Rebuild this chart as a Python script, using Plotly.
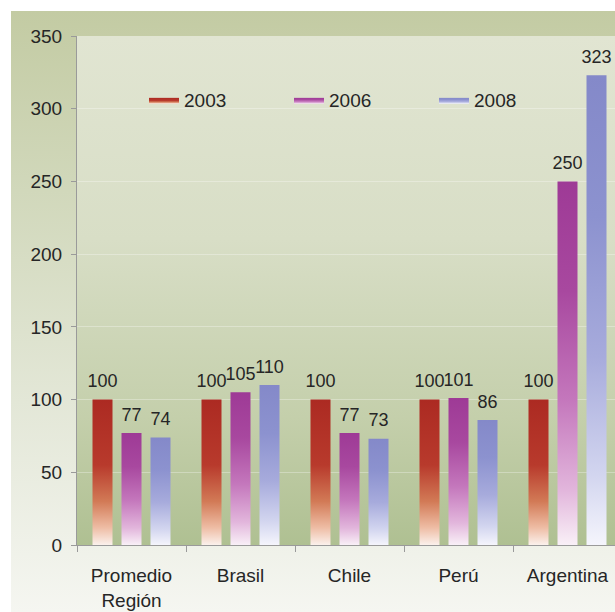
import base64
import plotly.graph_objects as go

categories = ["Promedio<br>Región", "Brasil", "Chile", "Perú", "Argentina"]
years = ["2003", "2006", "2008"]
v2003 = [100, 100, 100, 100, 100]
v2006 = [77, 105, 77, 101, 250]
v2008 = [74, 110, 73, 86, 323]
y_ticks = [0, 50, 100, 150, 200, 250, 300, 350]

series = [v2003, v2006, v2008]
scales = [
    [[0, "#fbf1ec"], [0.12, "#eebca4"], [0.3, "#d27a56"], [0.55, "#b83a2c"], [1, "#ac2a22"]],
    [[0, "#f9f0f7"], [0.15, "#e2b6dc"], [0.4, "#c477bc"], [0.7, "#a8489f"], [1, "#9e3a96"]],
    [[0, "#f5f5fc"], [0.15, "#d2d5ef"], [0.4, "#a7abdc"], [0.7, "#8c92cf"], [1, "#8489c9"]],
]
slot = 29 / 109
half = 10 / 109

fig = go.Figure()
for j, (yr, vals) in enumerate(zip(years, series)):
    for i, v in enumerate(vals):
        c = i + (j - 1) * slot
        fig.add_trace(go.Scatter(
            x=[c - half, c + half, c + half, c - half, c - half],
            y=[0, 0, v, v, 0],
            mode="lines", fill="toself",
            line=dict(width=0, color="rgba(0,0,0,0)"),
            fillgradient=dict(type="vertical", colorscale=scales[j]),
            name=yr, legendgroup=yr, showlegend=(i == 0),
            hoverinfo="skip",
        ))
    fig.add_trace(go.Scatter(
        x=[i + (j - 1) * slot for i in range(len(vals))], y=vals,
        mode="markers+text", marker=dict(size=11, opacity=0),
        text=[str(v) for v in vals], textposition="top center",
        textfont=dict(size=18, color="#262626"), showlegend=False, hoverinfo="skip",
    ))

# invisible trace to carry the category axis
fig.add_trace(go.Scatter(x=list(range(len(categories))), y=[0] * len(categories),
                         xaxis="x2", mode="markers", marker=dict(opacity=0),
                         showlegend=False, hoverinfo="skip"))


def svg_grad(stops):
    s = "".join(f"<stop offset='{o}' stop-color='{c}'/>" for o, c in stops)
    svg = ("<svg xmlns='http://www.w3.org/2000/svg' width='100' height='100' preserveAspectRatio='none'>"
           "<defs><linearGradient id='g' x1='0' y1='0' x2='0' y2='1'>" + s +
           "</linearGradient></defs><rect width='100' height='100' fill='url(#g)'/></svg>")
    return "data:image/svg+xml;base64," + base64.b64encode(svg.encode()).decode()


frame = svg_grad([(0, "#c3cba3"), (0.3, "#d1d8bb"), (0.65, "#e3e7d7"), (1, "#f5f6f1")])
plotbg = svg_grad([(0, "#e1e5d2"), (0.4, "#d8dec6"), (0.75, "#c4cfab"), (1, "#afc092")])

W, H = 615, 612
L, R, T, B = 77, 0, 36, 67
pw, ph = W - L - R, H - T - B

fig.update_layout(
    width=W, height=H,
    margin=dict(l=L, r=R, t=T, b=B),
    paper_bgcolor="white", plot_bgcolor="rgba(0,0,0,0)",
    font=dict(family="Liberation Sans, Arial, sans-serif", size=19, color="#262626"),
    images=[
        dict(source=frame, xref="paper", yref="paper", x=(11 - L) / pw, y=1 + (T - 11) / ph,
             sizex=(W - 11) / pw, sizey=(H - 11) / ph, sizing="stretch", layer="below",
             xanchor="left", yanchor="top"),
        dict(source=plotbg, xref="paper", yref="paper", x=0, y=1, sizex=1, sizey=1,
             sizing="stretch", layer="below", xanchor="left", yanchor="top"),
    ],
    xaxis=dict(range=[-0.5, -0.5 + pw / 109], tickvals=[k - 0.5 for k in range(6)],
               showticklabels=False, ticks="outside", ticklen=6, tickcolor="#9a9a9a",
               showline=True, linecolor="#9a9a9a", showgrid=False, zeroline=False),
    xaxis2=dict(overlaying="x", matches="x", side="bottom", tickvals=list(range(len(categories))),
                ticktext=categories, ticks="outside", ticklen=13, tickcolor="rgba(0,0,0,0)",
                showline=False, showgrid=False, zeroline=False,
                tickfont=dict(size=19, color="#262626")),
    yaxis=dict(range=[0, 350], tickvals=y_ticks, ticks="outside", ticklen=5,
               tickcolor="#9a9a9a", showline=True, linecolor="#9a9a9a",
               showgrid=True, gridcolor="rgba(255,255,255,0.3)", zeroline=False,
               ticklabelstandoff=5, tickfont=dict(size=19, color="#262626")),
    legend=dict(orientation="h", x=(152 - L - 8) / pw, y=1 - (100 - T) / ph,
                xanchor="left", yanchor="middle", bgcolor="rgba(0,0,0,0)",
                entrywidth=100, entrywidthmode="pixels", font=dict(size=19, color="#262626")),
)

fig.write_html("out.html")
